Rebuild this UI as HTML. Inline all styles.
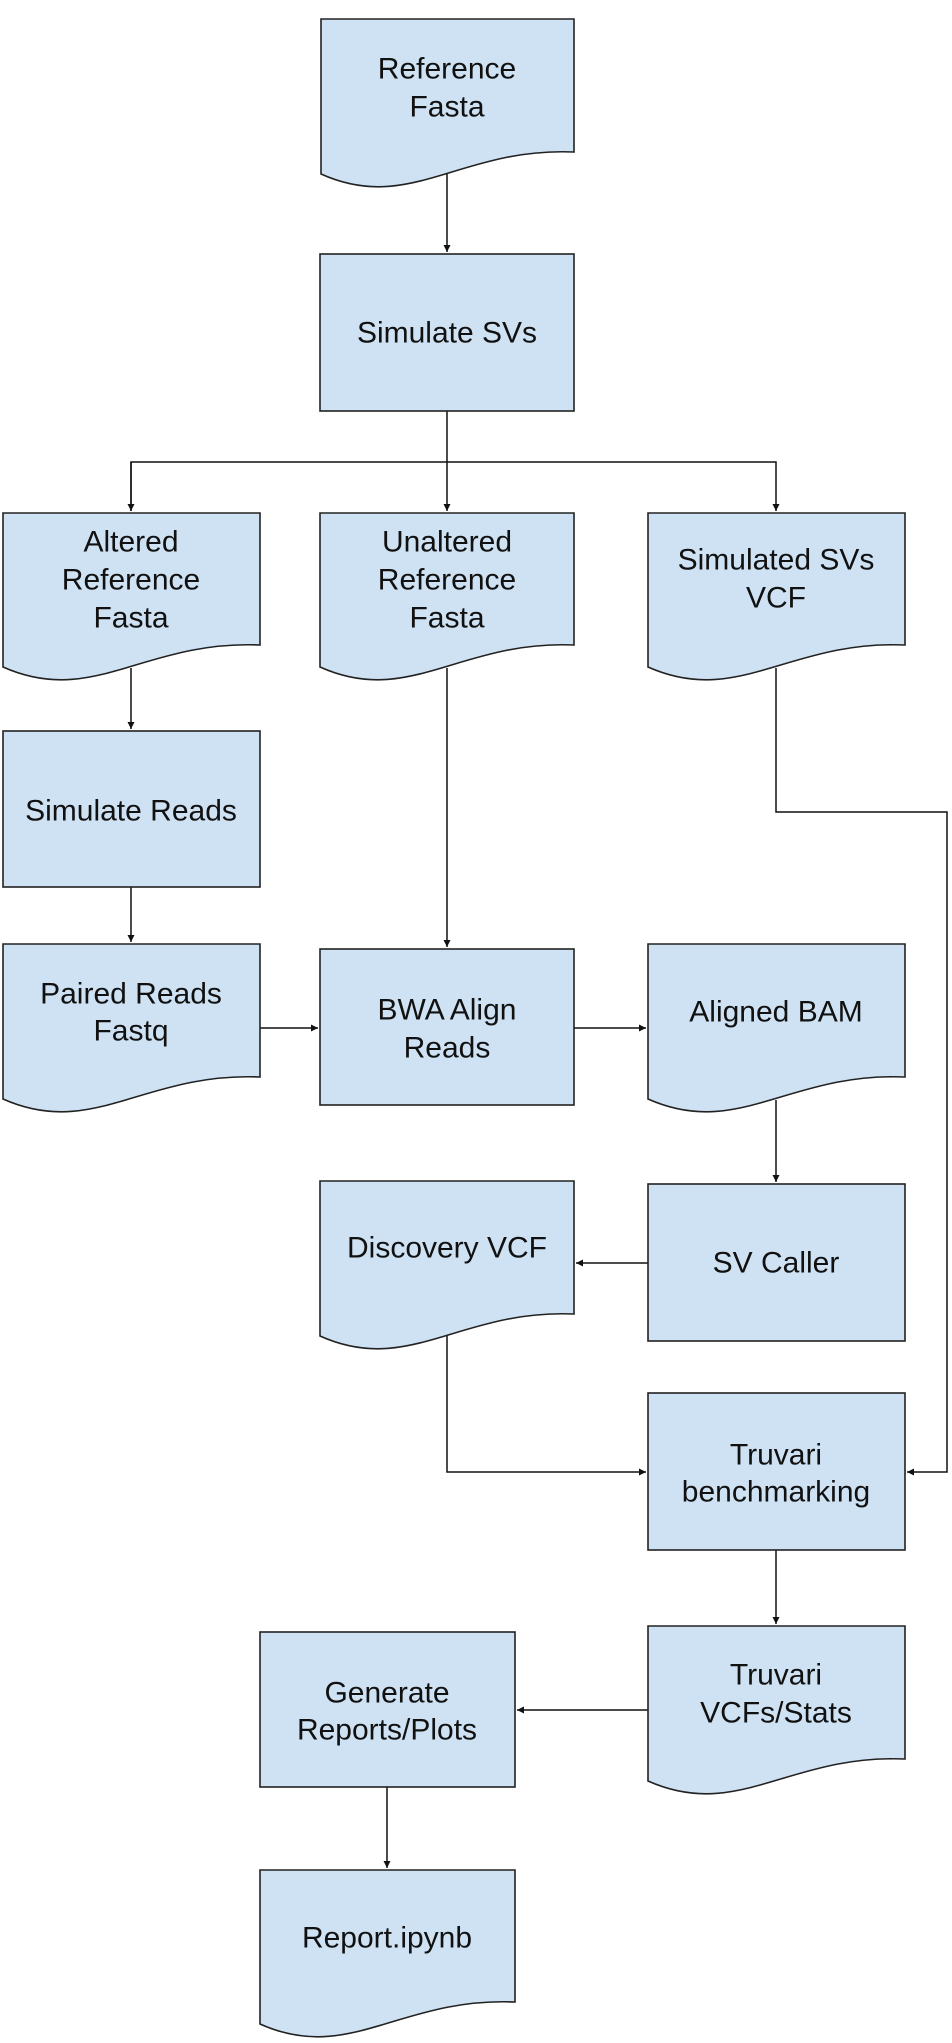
<!DOCTYPE html>
<html><head><meta charset="utf-8"><style>
html,body{margin:0;padding:0;background:#fff;}
svg{display:block;}
text{font-family:"Liberation Sans",Arial,sans-serif;font-size:30px;fill:#111;text-anchor:middle;dominant-baseline:central;}
.s{fill:#cfe2f3;stroke:#222;stroke-width:1.6;}
.l{fill:none;stroke:#111;stroke-width:1.5;}
</style></head><body>
<svg width="952" height="2043" viewBox="0 0 952 2043" xmlns="http://www.w3.org/2000/svg">
<defs><marker id="a" viewBox="0 0 10 10" refX="10" refY="5" markerWidth="7" markerHeight="7" orient="auto" markerUnits="userSpaceOnUse"><path d="M0,0 L10,5 L0,10 z" fill="#111"/></marker></defs>

<!-- connectors -->
<path class="l" d="M447,174 V252" marker-end="url(#a)"/>
<path class="l" d="M447,411 V511" marker-end="url(#a)"/>
<path class="l" d="M131,511 V462 H776 V511" marker-end="url(#a)"/>
<path class="l" d="M131,462 V511" marker-end="url(#a)"/>
<path class="l" d="M131,668 V729" marker-end="url(#a)"/>
<path class="l" d="M131,887 V942" marker-end="url(#a)"/>
<path class="l" d="M447,668 V947" marker-end="url(#a)"/>
<path class="l" d="M776,668 V812 H947 V1472 H907" marker-end="url(#a)"/>
<path class="l" d="M260,1028 H318" marker-end="url(#a)"/>
<path class="l" d="M574,1028 H646" marker-end="url(#a)"/>
<path class="l" d="M776,1100 V1182" marker-end="url(#a)"/>
<path class="l" d="M648,1263 H576" marker-end="url(#a)"/>
<path class="l" d="M447,1335 V1472 H646" marker-end="url(#a)"/>
<path class="l" d="M776,1550 V1624" marker-end="url(#a)"/>
<path class="l" d="M648,1710 H517" marker-end="url(#a)"/>
<path class="l" d="M387,1787 V1868" marker-end="url(#a)"/>

<!-- Reference Fasta (doc) -->
<path class="s" d="M321,19 H574 V152 C460,147 410,214 321,174 Z"/>
<text x="447" y="69">Reference</text><text x="447" y="107">Fasta</text>

<rect class="s" x="320" y="254" width="254" height="157"/>
<text x="447" y="333">Simulate SVs</text>

<path class="s" d="M3,513 H260 V645 C144,640 93,707 3,667 Z"/>
<text x="131" y="542">Altered</text><text x="131" y="580">Reference</text><text x="131" y="618">Fasta</text>

<path class="s" d="M320,513 H574 V645 C460,640 409,707 320,667 Z"/>
<text x="447" y="542">Unaltered</text><text x="447" y="580">Reference</text><text x="447" y="618">Fasta</text>

<path class="s" d="M648,513 H905 V645 C789,640 738,707 648,667 Z"/>
<text x="776" y="560">Simulated SVs</text><text x="776" y="598">VCF</text>

<rect class="s" x="3" y="731" width="257" height="156"/>
<text x="131" y="811">Simulate Reads</text>

<path class="s" d="M3,944 H260 V1077 C144,1072 93,1139 3,1099 Z"/>
<text x="131" y="994">Paired Reads</text><text x="131" y="1031">Fastq</text>

<rect class="s" x="320" y="949" width="254" height="156"/>
<text x="447" y="1010">BWA Align</text><text x="447" y="1048">Reads</text>

<path class="s" d="M648,944 H905 V1077 C789,1072 738,1139 648,1099 Z"/>
<text x="776" y="1012">Aligned BAM</text>

<path class="s" d="M320,1181 H574 V1314 C460,1309 409,1376 320,1336 Z"/>
<text x="447" y="1248">Discovery VCF</text>

<rect class="s" x="648" y="1184" width="257" height="157"/>
<text x="776" y="1263">SV Caller</text>

<rect class="s" x="648" y="1393" width="257" height="157"/>
<text x="776" y="1455">Truvari</text><text x="776" y="1492">benchmarking</text>

<path class="s" d="M648,1626 H905 V1759 C789,1754 738,1821 648,1781 Z"/>
<text x="776" y="1675">Truvari</text><text x="776" y="1713">VCFs/Stats</text>

<rect class="s" x="260" y="1632" width="255" height="155"/>
<text x="387" y="1693">Generate</text><text x="387" y="1730">Reports/Plots</text>

<path class="s" d="M260,1870 H515 V2002 C400,1997 349,2064 260,2024 Z"/>
<text x="387" y="1938">Report.ipynb</text>
</svg>
</body></html>
